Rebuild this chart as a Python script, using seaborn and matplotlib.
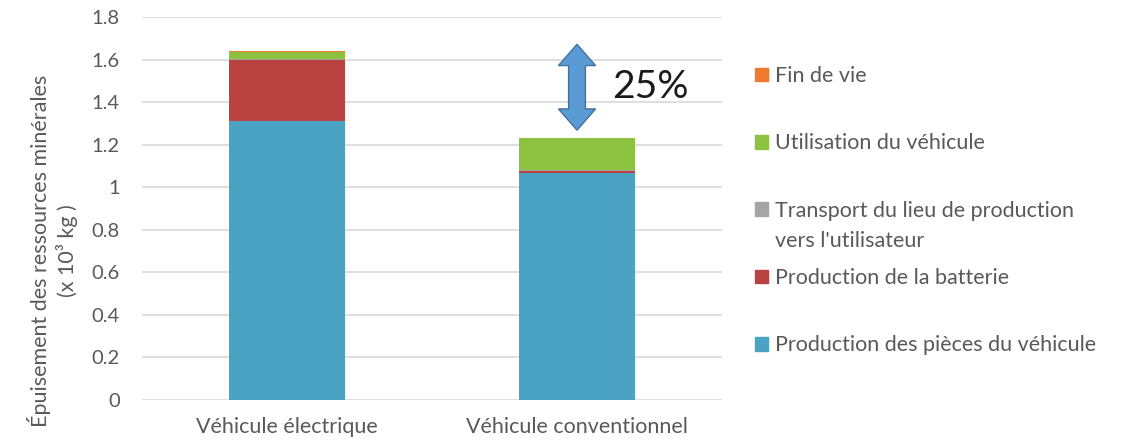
import matplotlib
matplotlib.use("Agg")
import matplotlib.pyplot as plt
import matplotlib.patches as mpatches
from matplotlib.ticker import FuncFormatter
import numpy as np
import seaborn as sns

# Vehicle categories
vehicles = ["Véhicule électrique", "Véhicule conventionnel"]

# Mineral resource depletion per life-cycle stage (x 10^3 kg)
production_pieces = [1.31, 1.07]
production_batterie = [0.29, 0.008]
transport = [0.003, 0.003]
utilisation = [0.035, 0.15]
fin_de_vie = [0.002, 0.003]

stage_labels = [
    "Production des pièces du véhicule",
    "Production de la batterie",
    "Transport du lieu de production",
    "Utilisation du véhicule",
    "Fin de vie",
]
stage_colors = ["#4AA3C2", "#BA4341", "#A5A5A5", "#8CC23F", "#EE7A30"]

reduction_label = "25%"

sns.set_theme(style="white")
plt.rcParams["font.family"] = ["Lato", "DejaVu Sans"]

text_gray = "#595959"

fig = plt.figure(figsize=(11.27, 4.43), dpi=100)
ax = fig.add_axes([142 / 1127, 43 / 443, 580 / 1127, 382.7 / 443])

# Stack the stages: draw cumulative totals from the top layer down
layers = np.array([production_pieces, production_batterie, transport,
                   utilisation, fin_de_vie])
cumulative = np.cumsum(layers, axis=0)
for level in range(len(layers) - 1, -1, -1):
    sns.barplot(x=vehicles, y=cumulative[level], color=stage_colors[level],
                width=0.4, saturation=1, errorbar=None, linewidth=0, ax=ax,
                zorder=3)

ax.set_ylim(0, 1.8)
ax.set_yticks(np.arange(0, 1.81, 0.2))
ax.yaxis.set_major_formatter(FuncFormatter(lambda v, _: f"{v:g}"))
ax.grid(axis="y", color="#D9D9D9", linewidth=1.2, zorder=0)
ax.set_axisbelow(True)
for side in ax.spines.values():
    side.set_visible(False)
ax.tick_params(axis="y", length=0, pad=16, labelsize=14.5, labelcolor=text_gray)
ax.tick_params(axis="x", length=0, pad=12, labelsize=15.5, labelcolor=text_gray)

ax.set_ylabel("Épuisement des ressources minérales\n(x 10³ kg )",
              fontsize=15.5, color=text_gray, linespacing=1.3)
ax.yaxis.set_label_coords(-0.11, 0.39)

# Double-headed arrow showing the gap between the two totals
totals = cumulative[-1]
x_arrow = 1
y_low = totals[1] + 0.035
y_high = totals[0] + 0.033
head_half = 0.064
body_half = 0.029
head_len = 0.1
arrow_xy = [
    (x_arrow, y_high),
    (x_arrow + head_half, y_high - head_len),
    (x_arrow + body_half, y_high - head_len),
    (x_arrow + body_half, y_low + head_len),
    (x_arrow + head_half, y_low + head_len),
    (x_arrow, y_low),
    (x_arrow - head_half, y_low + head_len),
    (x_arrow - body_half, y_low + head_len),
    (x_arrow - body_half, y_high - head_len),
    (x_arrow - head_half, y_high - head_len),
]
ax.add_patch(mpatches.Polygon(arrow_xy, closed=True, facecolor="#5B9BD5",
                              edgecolor="#41719C", linewidth=1, zorder=4))
ax.text(1.12, (y_low + y_high) / 2, reduction_label, fontsize=28,
        color="#1A1A1A", va="center", ha="left", zorder=5)

# Legend, top stage first
handles = [mpatches.Patch(color=c, label=l)
           for c, l in zip(stage_colors, stage_labels)][::-1]
leg = fig.legend(handles=handles, loc="upper left",
                 bbox_to_anchor=(755 / 1127, 1 - 66 / 443),
                 bbox_transform=fig.transFigure, frameon=False,
                 fontsize=15.5, labelcolor=text_gray, handlelength=0.6,
                 handleheight=0.6, handletextpad=0.35, labelspacing=2.2,
                 borderpad=0, borderaxespad=0)

# Second line of the transport entry, placed under its first line
fig.canvas.draw()
renderer = fig.canvas.get_renderer()
transport_text = leg.get_texts()[2]
bb = transport_text.get_window_extent(renderer)
x0, y0 = fig.transFigure.inverted().transform((bb.x0, bb.y0))
fig.text(x0, y0 - 10 / 443, "vers l'utilisateur", fontsize=15.5,
         color=text_gray, ha="left", va="top")

fig.savefig("out.png", dpi=100)
